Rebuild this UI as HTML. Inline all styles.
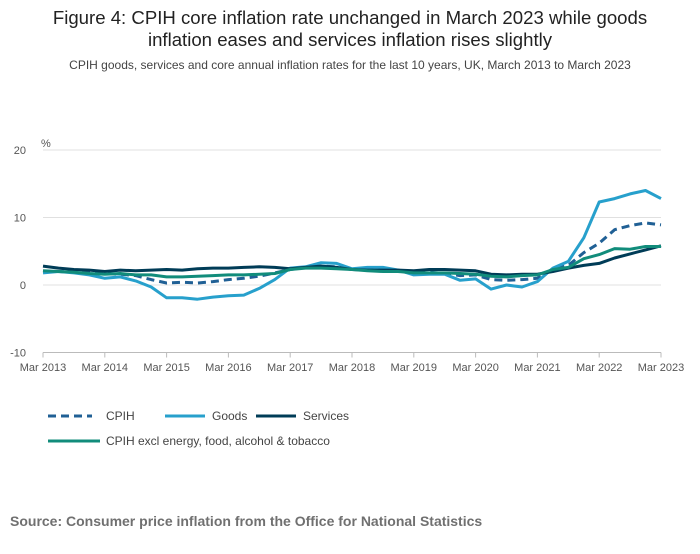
<!DOCTYPE html>
<html><head><meta charset="utf-8"><style>
body{margin:0;background:#fff;font-family:"Liberation Sans",sans-serif;}
svg text{font-family:"Liberation Sans",sans-serif;}
</style></head><body>
<svg id="c" width="700" height="549">
<text x="350" y="24" text-anchor="middle" font-size="18.6" fill="#222">Figure 4: CPIH core inflation rate unchanged in March 2023 while goods</text>
<text x="350" y="46" text-anchor="middle" font-size="18.6" fill="#222">inflation eases and services inflation rises slightly</text>
<text x="350" y="69" text-anchor="middle" font-size="12" fill="#444">CPIH goods, services and core annual inflation rates for the last 10 years, UK, March 2013 to March 2023</text>
<text x="41" y="147" font-size="11" fill="#555">%</text>
<g id="grid"></g><g id="series"></g>
<g>
<line x1="48" y1="416" x2="92" y2="416" stroke="#206095" stroke-width="3" stroke-dasharray="8,5"/>
<text x="106" y="420" font-size="12" fill="#444">CPIH</text>
<line x1="165" y1="416" x2="205" y2="416" stroke="#27a0cc" stroke-width="3"/>
<text x="212" y="420" font-size="12" fill="#444">Goods</text>
<line x1="256" y1="416" x2="296" y2="416" stroke="#003c57" stroke-width="3"/>
<text x="303" y="420" font-size="12" fill="#444">Services</text>
<line x1="48" y1="441" x2="100" y2="441" stroke="#118c7b" stroke-width="3"/>
<text x="106" y="445" font-size="12" fill="#444">CPIH excl energy, food, alcohol &amp; tobacco</text>
</g>
<text x="10" y="526" font-size="14" font-weight="bold" fill="#707070">Source: Consumer price inflation from the Office for National Statistics</text>
</svg>
<script>
const xLabels=["Mar 2013","Mar 2014","Mar 2015","Mar 2016","Mar 2017","Mar 2018","Mar 2019","Mar 2020","Mar 2021","Mar 2022","Mar 2023"];
const yTicks=[20,10,0,-10];
const cpih=[2.0,2.0,1.9,1.8,1.7,1.6,1.4,0.8,0.3,0.4,0.3,0.5,0.8,1.0,1.3,1.8,2.3,2.6,2.8,2.7,2.3,2.3,2.2,2.0,1.8,1.9,1.7,1.4,1.5,0.8,0.7,0.8,1.0,2.4,2.9,4.8,6.2,8.2,8.8,9.2,8.9];
const goods=[1.8,2.0,1.8,1.5,1.0,1.2,0.6,-0.3,-1.9,-1.9,-2.1,-1.8,-1.6,-1.5,-0.5,0.8,2.5,2.7,3.3,3.2,2.4,2.6,2.6,2.2,1.5,1.6,1.6,0.7,0.9,-0.6,0.0,-0.3,0.5,2.5,3.5,7.0,12.3,12.8,13.5,14.0,12.8];
const services=[2.8,2.5,2.3,2.2,2.0,2.2,2.1,2.2,2.3,2.2,2.4,2.5,2.5,2.6,2.7,2.6,2.4,2.6,2.8,2.6,2.3,2.2,2.2,2.2,2.1,2.3,2.3,2.2,2.1,1.6,1.5,1.6,1.6,2.0,2.5,2.9,3.2,4.0,4.6,5.2,5.8];
const core=[2.1,2.0,1.9,1.7,1.6,1.7,1.5,1.5,1.2,1.2,1.3,1.4,1.5,1.5,1.6,1.7,2.3,2.5,2.5,2.4,2.3,2.1,2.0,2.0,1.8,1.8,1.8,1.7,1.6,1.3,1.2,1.4,1.5,2.3,2.6,3.9,4.5,5.4,5.3,5.7,5.7];
const NS="http://www.w3.org/2000/svg";
const X0=43,X1=661,Y0=285,PU=6.75;
const xs=i=>X0+(X1-X0)*i/(cpih.length-1);
const ys=v=>Y0-v*PU;
const g=document.getElementById('grid'),s=document.getElementById('series');
function mk(t,a,p){const e=document.createElementNS(NS,t);for(const k in a)e.setAttribute(k,a[k]);p.appendChild(e);return e;}
yTicks.forEach(v=>{
 const l=mk('line',{x1:X0,x2:X1,y1:ys(v),y2:ys(v),stroke:v===-10?'#bbb':'#e0e0e0','stroke-width':1},g);
 
 
 const t=mk('text',{x:26,y:ys(v)+4,'font-size':11,fill:'#555','text-anchor':'end'},g);t.textContent=v;
 
 
});
xLabels.forEach((lab,i)=>{
 const x=X0+(X1-X0)*i/(xLabels.length-1);
 const tk=mk('line',{x1:x,x2:x,y1:ys(-10),y2:ys(-10)+5,stroke:'#bbb'},g);
 
 
 const t=mk('text',{x:x,y:371,'font-size':11,fill:'#555','text-anchor':'middle'},g);t.textContent=lab;
 
 
});
function line(d,c,name,dash){
 const p=mk('path',{d:d.map((v,i)=>(i?'L':'M')+xs(i).toFixed(1)+','+ys(v).toFixed(1)).join(''),fill:'none',stroke:c,'stroke-width':3,'stroke-linejoin':'round'},s);
 if(dash)p.setAttribute('stroke-dasharray',dash);
 
 
}
line(cpih,'#206095','cpih-line','8,5');
line(goods,'#27a0cc','goods-line');
line(services,'#003c57','services-line');
line(core,'#118c7b','core-line');
</script>
</body></html>
